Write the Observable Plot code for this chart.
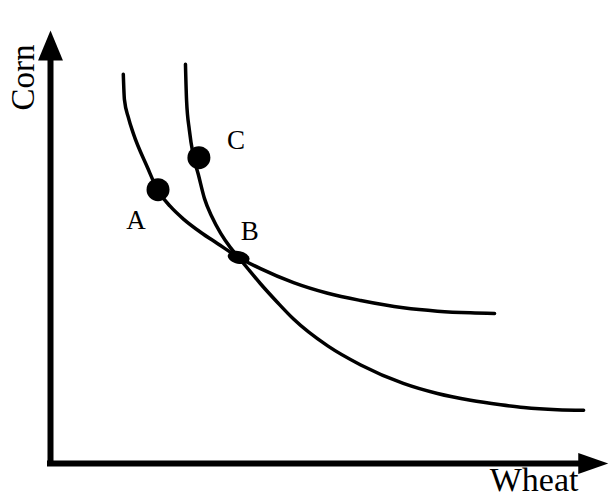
<!DOCTYPE html>
<html>
<head>
<meta charset="utf-8">
<script src="https://cdn.jsdelivr.net/npm/d3@7"></script>
<script src="https://cdn.jsdelivr.net/npm/@observablehq/plot@0.6"></script>
<style>
  html, body { margin: 0; padding: 0; background: #fff; }
  svg { display: block; }
</style>
</head>
<body>
<div id="chart"></div>
<script>
// ---- data (Wheat on x, Corn on y, arbitrary units) ----
const curve1Wheat = [1.30, 1.32, 1.39, 1.48, 1.73, 1.91, 2.14, 2.38, 2.68, 2.98, 3.36, 3.75, 4.34, 4.95, 5.54, 6.30, 6.91, 7.50, 7.93];
const curve1Corn  = [6.95, 6.50, 6.18, 5.89, 5.29, 4.89, 4.59, 4.36, 4.13, 3.93, 3.68, 3.48, 3.23, 3.04, 2.91, 2.78, 2.72, 2.69, 2.68];

const curve2Wheat = [2.41, 2.43, 2.48, 2.55, 2.64, 2.75, 2.88, 3.04, 3.21, 3.36, 3.54, 3.75, 4.05, 4.34, 4.95, 5.54, 6.30, 6.91, 7.50, 8.04, 8.45, 9.05, 9.52];
const curve2Corn  = [7.13, 6.48, 5.95, 5.50, 5.16, 4.73, 4.41, 4.11, 3.86, 3.68, 3.46, 3.21, 2.88, 2.58, 2.10, 1.76, 1.43, 1.25, 1.13, 1.05, 1.00, 0.96, 0.95];

const pointLabels = ["A", "B", "C"];
const pointWheat  = [1.92, 3.36, 2.65];
const pointCorn   = [4.89, 3.68, 5.46];

const xAxisLabel = "Wheat";
const yAxisLabel = "Corn";
const xMax = 10;
const yMax = 8;

// ---- tables built from arrays ----
const curves = [
  ...curve1Wheat.map((w, i) => ({curve: "I1", wheat: w, corn: curve1Corn[i]})),
  ...curve2Wheat.map((w, i) => ({curve: "I2", wheat: w, corn: curve2Corn[i]}))
];
const points = pointLabels.map((l, i) => ({label: l, wheat: pointWheat[i], corn: pointCorn[i]}));

// ---- styling ----
const labelOffset = {A: [-22, 31], B: [11, -26], C: [37, -17]};
const headLen = 30 / 56; // arrow head length in data units

// custom symbols
const upArrow = {
  draw(ctx, size) {
    const r = Math.sqrt(size / Math.PI);
    ctx.moveTo(0, -r); ctx.lineTo(0.83 * r, r); ctx.lineTo(-0.83 * r, r); ctx.closePath();
  }
};
const rightArrow = {
  draw(ctx, size) {
    const r = Math.sqrt(size / Math.PI);
    ctx.moveTo(r, 0); ctx.lineTo(-r, 0.7 * r); ctx.lineTo(-r, -0.7 * r); ctx.closePath();
  }
};
const ellipse = {
  draw(ctx, size) {
    const r = Math.sqrt(size / Math.PI);
    const rx = r, ry = 0.58 * r, th = 12 * Math.PI / 180;
    const n = 36;
    for (let i = 0; i <= n; i++) {
      const a = 2 * Math.PI * i / n;
      const x0 = rx * Math.cos(a), y0 = ry * Math.sin(a);
      const x = x0 * Math.cos(th) - y0 * Math.sin(th);
      const y = x0 * Math.sin(th) + y0 * Math.cos(th);
      if (i === 0) ctx.moveTo(x, y); else ctx.lineTo(x, y);
    }
    ctx.closePath();
  }
};

const font = "Liberation Serif";

const chart = Plot.plot({
  width: 613,
  height: 497,
  marginLeft: 50,
  marginRight: 3,
  marginTop: 15,
  marginBottom: 34,
  x: {domain: [0, xMax], axis: null},
  y: {domain: [0, yMax], axis: null},
  style: {fontFamily: font, background: "#fff", color: "#000"},
  marks: [
    // axes
    Plot.ruleX([0], {y1: 0, y2: yMax - headLen * 0.9, stroke: "#000", strokeWidth: 6, strokeLinecap: "square"}),
    Plot.ruleY([0], {x1: 0, x2: xMax - headLen * 1.1, stroke: "#000", strokeWidth: 6, strokeLinecap: "square"}),
    Plot.dot([0], {x: 0, y: yMax - headLen * 0.5 - 0.27, r: 15, symbol: upArrow, fill: "#000", stroke: null}),
    Plot.dot([0], {x: xMax - headLen * 0.5 - 0.04, y: 0, r: 15, symbol: rightArrow, fill: "#000", stroke: null}),
    // curves
    Plot.line(curves, {x: "wheat", y: "corn", z: "curve", curve: "monotone-x", stroke: "#000", strokeWidth: 3.5}),
    // points
    Plot.dot(points.filter(d => d.label !== "B"), {x: "wheat", y: "corn", r: 11.5, fill: "#000", stroke: null}),
    Plot.dot(points.filter(d => d.label === "B"), {x: "wheat", y: "corn", r: 11, symbol: ellipse, fill: "#000", stroke: null}),
    // point labels
    ...points.map(p => Plot.text([p], {
      x: "wheat", y: "corn", text: "label",
      dx: labelOffset[p.label][0], dy: labelOffset[p.label][1],
      fontSize: 27, fontFamily: font, fill: "#000", textAnchor: "middle", lineAnchor: "middle"
    })),
    // axis titles
    Plot.text([xAxisLabel], {
      frameAnchor: "bottom-right", text: d => d, textAnchor: "end", lineAnchor: "bottom",
      dx: -32, dy: 27, fontSize: 34, fontFamily: font, fill: "#000"
    }),
    Plot.text([yAxisLabel], {
      frameAnchor: "top-left", text: d => d, rotate: -90, textAnchor: "middle", lineAnchor: "bottom",
      dx: -17, dy: 62, fontSize: 33, fontFamily: font, fill: "#000"
    })
  ]
});
document.getElementById("chart").appendChild(chart);
</script>
</body>
</html>
